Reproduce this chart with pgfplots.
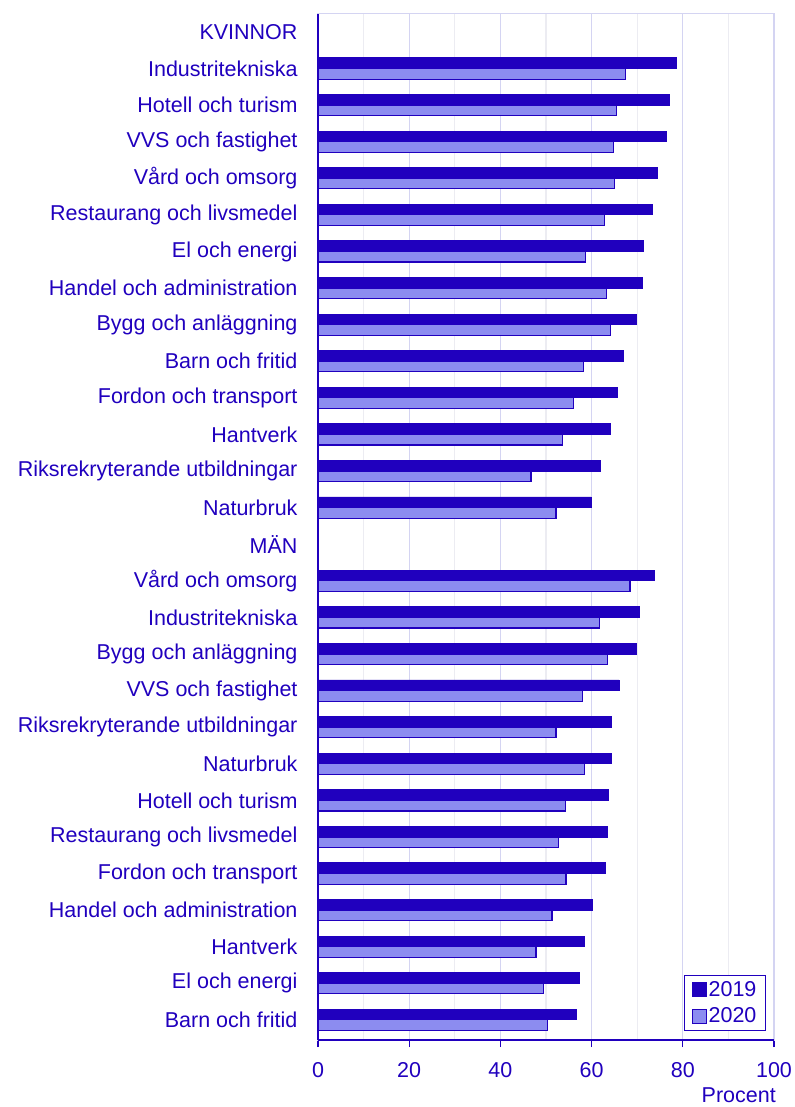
\documentclass[border=0pt]{standalone}
\usepackage{pgfplots}
\pgfplotsset{compat=1.18}
\usepackage{fontspec}
\setmainfont{Liberation Sans}
\definecolor{dkb}{RGB}{32,0,190}
\definecolor{ltb}{RGB}{140,140,240}
\definecolor{lav}{RGB}{212,212,242}
\definecolor{mgr}{RGB}{236,236,242}
\newcommand{\lblfont}{\fontsize{21.5bp}{25bp}\selectfont}
\begin{document}
\begin{tikzpicture}
\begin{axis}[
  name=ax,
  scale only axis,
  width=456bp, height=1026bp,
  xbar,
  xmin=0, xmax=100,
  ymin=-0.55, ymax=27.49,
  xtick={0,20,40,60,80,100},
  minor x tick num=1,
  xmajorgrids, xminorgrids,
  major grid style={lav, line width=1.2bp},
  minor grid style={mgr, line width=1.2bp},
  axis line style={lav, line width=1bp},
  xtick pos=bottom, xtick align=outside,
  major tick length=7bp, minor tick length=0bp,
  major x tick style={dkb, line width=1.2bp},
  ytick={0,...,27},
  ytick style={draw=none},
  yticklabels={Barn och fritid, El och energi, Hantverk, Handel och administration, Fordon och transport, Restaurang och livsmedel, Hotell och turism, Naturbruk, Riksrekryterande utbildningar, VVS och fastighet, Bygg och anläggning, Industritekniska, Vård och omsorg, MÄN, Naturbruk, Riksrekryterande utbildningar, Hantverk, Fordon och transport, Barn och fritid, Bygg och anläggning, Handel och administration, El och energi, Restaurang och livsmedel, Vård och omsorg, VVS och fastighet, Hotell och turism, Industritekniska, KVINNOR},
  tick label style={font=\lblfont, text=dkb},
  yticklabel style={xshift=-10bp},
  xticklabel style={yshift=-12bp},
  /pgf/number format/assume math mode=true,
  xlabel={Procent},
  xlabel style={font=\lblfont, text=dkb, inner sep=1bp, at={(axis description cs:1,0)}, anchor=north east, yshift=-47bp, xshift=3bp},
  bar width=0.29,
  legend style={at={(axis description cs:0.9825,0.0088)}, anchor=south east, draw=dkb, line width=1.2bp, font=\lblfont, text=dkb, inner xsep=7bp, inner ysep=4bp, row sep=6bp, /tikz/every even column/.append style={column sep=2bp}},
  legend cell align=left,
  legend image code/.code={\draw[#1, line width=1bp] (0bp,-7bp) rectangle (14bp,7bp);},
  extra description/.code={
    \draw[dkb, line width=1.5bp] (axis description cs:0,0) -- (axis description cs:0,1);
    \draw[dkb, line width=1.5bp] (axis description cs:0,0) -- (axis description cs:1,0);
  },
]
\addplot[fill=dkb, draw=dkb, line width=0.8bp, bar shift=0.145] coordinates {
(56.7,0) (57.3,1) (58.4,2) (60.1,3) (63.0,4) (63.5,5) (63.6,6) (64.3,7) (64.3,8) (66.0,9) (69.9,10) (70.4,11) (73.7,12)
(59.9,14) (62.0,15) (64.2,16) (65.6,17) (66.9,18) (69.9,19) (71.2,20) (71.4,21) (73.4,22) (74.5,23) (76.4,24) (77.0,25) (78.5,26)
};
\addplot[fill=ltb, draw=dkb, line width=1.2bp, bar shift=-0.145] coordinates {
(50.3,0) (49.4,1) (47.8,2) (51.3,3) (54.4,4) (52.7,5) (54.3,6) (58.5,7) (52.2,8) (58.0,9) (63.5,10) (61.7,11) (68.4,12)
(52.2,14) (46.7,15) (53.6,16) (56.1,17) (58.2,18) (64.1,19) (63.3,20) (58.7,21) (62.8,22) (65.1,23) (64.8,24) (65.5,25) (67.4,26)
};
\legend{2019,2020}
\end{axis}
\pgfresetboundingbox
\path ([shift={(-318bp,-67bp)}]ax.south west) rectangle ([shift={(21bp,14bp)}]ax.north east);
\end{tikzpicture}
\end{document}
